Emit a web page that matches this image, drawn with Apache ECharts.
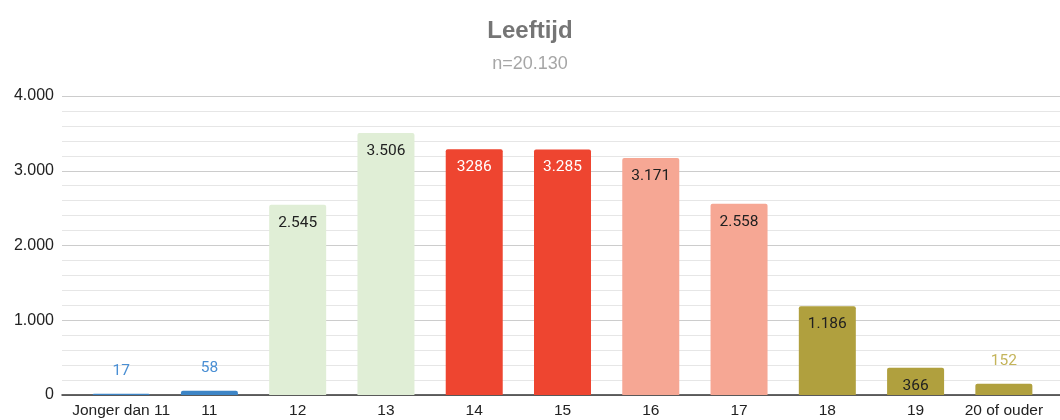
<!DOCTYPE html>
<html>
<head>
<meta charset="utf-8">
<title>Leeftijd</title>
<script src="https://cdn.jsdelivr.net/npm/echarts@6/dist/echarts.min.js"></script>
<style>
    html, body { margin: 0; padding: 0; background: #fff; }
    #chart { width: 1060px; height: 420px; }
</style>
</head>
<body>
<div id="chart"></div>
<script>
// data
var categories = ['Jonger dan 11', '11', '12', '13', '14', '15', '16', '17', '18', '19', '20 of ouder'];
var values = [17, 58, 2545, 3506, 3286, 3285, 3171, 2558, 1186, 366, 152];
var labelTexts = ['17', '58', '2.545', '3.506', '3286', '3.285', '3.171', '2.558', '1.186', '366', '152'];
var yTicks = ['0', '1.000', '2.000', '3.000', '4.000'];

// kleur per balk
var barColors = ['#3d85c6', '#3d85c6', '#e0eed6', '#e0eed6', '#ee4530', '#ee4530',
    '#f6a794', '#f6a794', '#b0a03e', '#b0a03e', '#b0a03e'];
var labelColors = ['#4a8fd4', '#4a8fd4', '#212121', '#212121', '#ffffff', '#ffffff',
    '#212121', '#212121', '#212121', '#212121', '#c4b45a'];
var labelInside = [false, false, true, true, true, true, true, true, true, true, false];

var myChart = echarts.init(document.getElementById('chart'));

var barData = values.map(function (v, i) {
    return {
        value: v,
        itemStyle: { color: barColors[i] },
        label: {
            position: labelInside[i] ? 'insideTop' : 'top',
            distance: labelInside[i] ? 10 : 15,
            color: labelColors[i]
        }
    };
});

var option = {
    backgroundColor: '#ffffff',
    animation: false,
    title: [{
        text: 'Leeftijd',
        left: 'center',
        top: 14,
        textStyle: {
            fontFamily: 'Liberation Sans',
            fontSize: 24,
            fontWeight: 'bold',
            color: '#757575'
        }
    }, {
        text: 'n=20.130',
        left: 'center',
        top: 50,
        textStyle: {
            fontFamily: 'Liberation Sans',
            fontSize: 18,
            fontWeight: 'normal',
            color: '#a6a6a6'
        }
    }],
    // grid 0: achtergrondlijnen over de volle breedte, grid 1: de balken
    grid: [{
        left: 62,
        right: 0,
        top: 96,
        bottom: 25
    }, {
        left: 77,
        right: 12,
        top: 96,
        bottom: 25
    }],
    xAxis: [{
        gridIndex: 0,
        type: 'value',
        min: 0,
        max: 1,
        axisLine: { show: true, lineStyle: { color: '#333333', width: 1.5 } },
        axisTick: { show: false },
        axisLabel: { show: false },
        splitLine: { show: false }
    }, {
        gridIndex: 1,
        type: 'category',
        data: categories,
        axisLine: { show: false },
        axisTick: { show: false },
        axisLabel: {
            interval: 0,
            margin: 8,
            fontFamily: 'Liberation Sans',
            fontSize: 15.5,
            color: '#222222'
        }
    }],
    yAxis: [{
        gridIndex: 0,
        type: 'value',
        min: 0,
        max: 4000,
        interval: 1000,
        axisLine: { show: false },
        axisTick: { show: false },
        axisLabel: {
            margin: 8,
            fontFamily: 'Liberation Sans',
            fontSize: 16,
            color: '#222222',
            formatter: function (v) {
                return yTicks[v / 1000];
            }
        },
        splitLine: { lineStyle: { color: '#cccccc', width: 1 } },
        minorTick: { show: false, splitNumber: 5 },
        minorSplitLine: { show: true, lineStyle: { color: '#e6e6e6', width: 1 } }
    }, {
        gridIndex: 1,
        type: 'value',
        min: 0,
        max: 4000,
        interval: 1000,
        show: false,
        splitLine: { show: false }
    }],
    series: [{
        type: 'bar',
        xAxisIndex: 1,
        yAxisIndex: 1,
        barWidth: 57,
        itemStyle: { borderRadius: [2, 2, 0, 0] },
        label: {
            show: true,
            fontFamily: 'Roboto',
            fontSize: 15.5,
            formatter: function (p) {
                return labelTexts[p.dataIndex];
            }
        },
        data: barData
    }]
};
myChart.setOption(option);
</script>
</body>
</html>
